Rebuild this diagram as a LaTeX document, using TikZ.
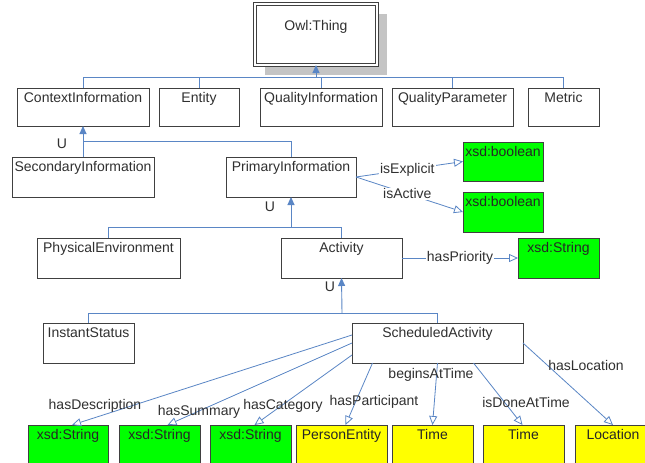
\documentclass[tikz,border=0pt]{standalone}
\usepackage{fontspec}
\setmainfont{Liberation Sans}
\usetikzlibrary{arrows.meta,shadows}
\definecolor{lnblue}{HTML}{5A86C5}
\definecolor{bdgray}{HTML}{404040}
\definecolor{shgray}{HTML}{C4C4C4}
\definecolor{txgray}{HTML}{303030}
\definecolor{grn}{HTML}{00FF00}
\definecolor{ylw}{HTML}{FFFF00}
\newcommand{\bxt}[3]{\parbox[c][#2pt][t]{#1pt}{\centering\vspace*{3pt}\strut #3}}
\tikzset{
  cls/.style={draw=bdgray, line width=0.9pt, fill=white, inner sep=0pt, outer sep=0pt,
    anchor=north west, text=txgray, font=\fontsize{14}{16}\selectfont},
  grnbox/.style={cls, fill=grn, text=black!85},
  ylwbox/.style={cls, fill=ylw, text=black!85},
  tree/.style={draw=lnblue, line width=0.9pt},
  subarr/.style={tree, -{Triangle[length=8pt,width=7pt]}},
  prop/.style={draw=lnblue, line width=0.8pt, -{Triangle[open,length=9pt,width=8pt,fill=white]}},
  lbl/.style={text=txgray, font=\fontsize{14}{16}\selectfont, inner sep=1pt},
}
\begin{document}
\begin{tikzpicture}[x=1pt,y=-1pt]
\clip (0,0) rectangle (645,463);
\fill[white] (0,0) rectangle (645,463);
% root
\node[cls, line width=0.9pt, double=white, double distance=2pt,
      drop shadow={fill=shgray, opacity=1, shadow xshift=10pt, shadow yshift=-10pt}]
  (thing) at (255,4) {\parbox[c][61pt][t]{122pt}{\centering\vspace*{15pt}\strut Owl:Thing}};
% top row
\node[cls] (ci)  at (17,88)  {\bxt{132}{38}{ContextInformation}};
\node[cls] (ent) at (159,88) {\bxt{80}{38}{Entity}};
\node[cls] (qi)  at (260,88) {\bxt{122}{38}{QualityInformation}};
\node[cls] (qp)  at (392,88) {\bxt{121}{38}{QualityParameter}};
\node[cls] (met) at (528,88) {\bxt{71}{38}{Metric}};
% second row
\node[cls] (sec) at (12,157)  {\bxt{142}{40}{SecondaryInformation}};
\node[cls] (pri) at (226,157) {\bxt{130}{40}{PrimaryInformation}};
\node[grnbox] (b1) at (463,142) {\bxt{80}{39}{xsd:boolean}};
\node[grnbox] (b2) at (463,192) {\bxt{80}{40}{xsd:boolean}};
% third row
\node[cls] (phy) at (37,238)  {\bxt{143}{40}{PhysicalEnvironment}};
\node[cls] (act) at (281,238) {\bxt{121}{40}{Activity}};
\node[grnbox] (sp) at (518,238) {\bxt{81}{40}{xsd:String}};
% fourth row
\node[cls] (ins) at (43,323)  {\bxt{91}{40}{InstantStatus}};
\node[cls] (sa)  at (352,323) {\bxt{171}{40}{ScheduledActivity}};
% bottom row
\node[grnbox] (s1) at (28,425)  {\bxt{80}{45}{xsd:String}};
\node[grnbox] (s2) at (119,425) {\bxt{81}{45}{xsd:String}};
\node[grnbox] (s3) at (210,425) {\bxt{81}{45}{xsd:String}};
\node[ylwbox] (pe) at (296,425) {\bxt{91}{45}{PersonEntity}};
\node[ylwbox] (t1) at (392,425) {\bxt{81}{45}{Time}};
\node[ylwbox] (t2) at (483,425) {\bxt{81}{45}{Time}};
\node[ylwbox] (loc) at (575,425) {\bxt{76}{45}{Location}};
% hierarchy: top
\coordinate (j0) at (316,77);
\draw[tree] (ci.north) -- (ci.north |- j0) -- (met.north |- j0) -- (met.north);
\draw[tree] (ent.north) -- (ent.north |- j0);
\draw[tree] (qi.north) -- (qi.north |- j0);
\draw[tree] (qp.north) -- (qp.north |- j0);
\draw[subarr] (j0) -- (thing.south);
% hierarchy: context information
\coordinate (j1) at (83,141);
\draw[tree] (sec.north) -- (sec.north |- j1) -- (pri.north |- j1) -- (pri.north);
\draw[subarr] (j1) -- (ci.south);
\node[lbl] (u1) at (62,144) {U};
% hierarchy: primary information
\coordinate (j2) at (291,227);
\draw[tree] (phy.north) -- (phy.north |- j2) -- (act.north |- j2) -- (act.north);
\draw[subarr] (j2) -- (pri.south);
\node[lbl] (u2) at (270,207) {U};
% hierarchy: activity
\coordinate (j3) at (342,313);
\draw[tree] (ins.north) -- (ins.north |- j3) -- (sa.north |- j3) -- (sa.north);
\draw[subarr] (j3) -- (act.south);
\node[lbl] (u3) at (330,287) {U};
% properties
\draw[prop] (pri.east) -- node[lbl, fill=white, pos=0.48] (lx) {isExplicit} (b1.west);
\draw[prop] (pri.east) -- node[lbl, fill=white, pos=0.48] (la) {isActive} (b2.west);
\draw[prop] (act.east) -- node[lbl, fill=white, pos=0.5] (lp) {hasPriority} (sp.west);
\draw[prop] ([yshift=8pt]sa.west) -- ([xshift=4pt]s1.north);
\draw[prop] (sa.west) -- ([xshift=8pt]s2.north);
\draw[prop] ([yshift=-12pt]sa.west) -- ([xshift=4pt]s3.north);
\draw[prop] ([xshift=-65pt]sa.south) -- ([xshift=4pt]pe.north);
\draw[prop] (sa.south) -- (t1.north);
\draw[prop] ([xshift=36pt]sa.south) -- ([xshift=-1pt]t2.north);
\draw[prop] (sa.east) -- ([xshift=0pt]loc.north);
\node[lbl] (ld) at (95,406) {hasDescription};
\node[lbl] (ls) at (199,412) {hasSummary};
\node[lbl] (lc) at (283,406) {hasCategory};
\node[lbl] (lpa) at (374,402) {hasParticipant};
\node[lbl] (lb) at (431,375) {beginsAtTime};
\node[lbl] (li) at (526,402) {isDoneAtTime};
\node[lbl] (ll) at (586,365) {hasLocation};
\end{tikzpicture}
\end{document}
